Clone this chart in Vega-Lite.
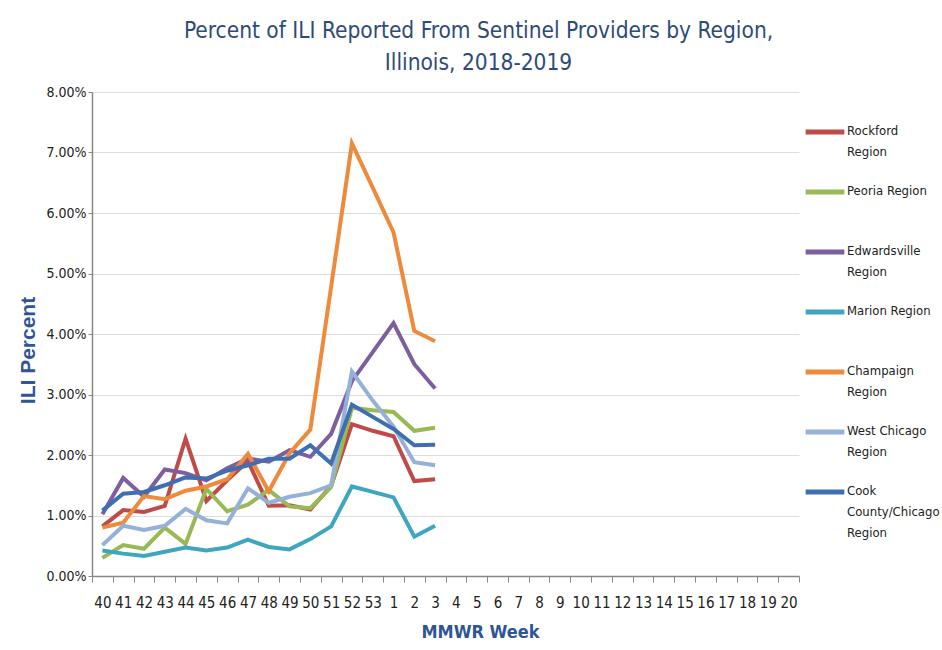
{
  "$schema": "https://vega.github.io/schema/vega-lite/v6.json",
  "width": 707,
  "height": 484,
  "autosize": {"type": "none"},
  "padding": {"left": 92, "top": 92, "right": 143, "bottom": 74},
  "background": "white",
  "config": {"view": {"stroke": null}, "font": "Liberation Sans Narrow, Arial Narrow, DejaVu Sans Condensed, sans-serif"},
  "title": {
    "text": ["Percent of ILI Reported From Sentinel Providers by Region,", "Illinois, 2018-2019"],
    "fontSize": 22.5,
    "fontWeight": "normal",
    "color": "#2E4B7A",
    "lineHeight": 32,
    "anchor": "middle",
    "frame": "group",
    "dx": 33,
    "offset": 11
  },
  "datasets": {
    "ili": [
      {"week": "40", "region": "Rockford Region", "ili": 0.0082},
      {"week": "41", "region": "Rockford Region", "ili": 0.0109},
      {"week": "42", "region": "Rockford Region", "ili": 0.0106},
      {"week": "43", "region": "Rockford Region", "ili": 0.0116},
      {"week": "44", "region": "Rockford Region", "ili": 0.0227},
      {"week": "45", "region": "Rockford Region", "ili": 0.0124},
      {"week": "46", "region": "Rockford Region", "ili": 0.0158},
      {"week": "47", "region": "Rockford Region", "ili": 0.0190},
      {"week": "48", "region": "Rockford Region", "ili": 0.0116},
      {"week": "49", "region": "Rockford Region", "ili": 0.0117},
      {"week": "50", "region": "Rockford Region", "ili": 0.0110},
      {"week": "51", "region": "Rockford Region", "ili": 0.0149},
      {"week": "52", "region": "Rockford Region", "ili": 0.0251},
      {"week": "53", "region": "Rockford Region", "ili": 0.0240},
      {"week": "1", "region": "Rockford Region", "ili": 0.0231},
      {"week": "2", "region": "Rockford Region", "ili": 0.0157},
      {"week": "3", "region": "Rockford Region", "ili": 0.0160},

      {"week": "40", "region": "Peoria Region", "ili": 0.0030},
      {"week": "41", "region": "Peoria Region", "ili": 0.0051},
      {"week": "42", "region": "Peoria Region", "ili": 0.0045},
      {"week": "43", "region": "Peoria Region", "ili": 0.0080},
      {"week": "44", "region": "Peoria Region", "ili": 0.0053},
      {"week": "45", "region": "Peoria Region", "ili": 0.0144},
      {"week": "46", "region": "Peoria Region", "ili": 0.0107},
      {"week": "47", "region": "Peoria Region", "ili": 0.0118},
      {"week": "48", "region": "Peoria Region", "ili": 0.0142},
      {"week": "49", "region": "Peoria Region", "ili": 0.0115},
      {"week": "50", "region": "Peoria Region", "ili": 0.0112},
      {"week": "51", "region": "Peoria Region", "ili": 0.0147},
      {"week": "52", "region": "Peoria Region", "ili": 0.0278},
      {"week": "53", "region": "Peoria Region", "ili": 0.0274},
      {"week": "1", "region": "Peoria Region", "ili": 0.0271},
      {"week": "2", "region": "Peoria Region", "ili": 0.0240},
      {"week": "3", "region": "Peoria Region", "ili": 0.0245},

      {"week": "40", "region": "Edwardsville Region", "ili": 0.0102},
      {"week": "41", "region": "Edwardsville Region", "ili": 0.0162},
      {"week": "42", "region": "Edwardsville Region", "ili": 0.0131},
      {"week": "43", "region": "Edwardsville Region", "ili": 0.0176},
      {"week": "44", "region": "Edwardsville Region", "ili": 0.0170},
      {"week": "45", "region": "Edwardsville Region", "ili": 0.0158},
      {"week": "46", "region": "Edwardsville Region", "ili": 0.0178},
      {"week": "47", "region": "Edwardsville Region", "ili": 0.0194},
      {"week": "48", "region": "Edwardsville Region", "ili": 0.0189},
      {"week": "49", "region": "Edwardsville Region", "ili": 0.0208},
      {"week": "50", "region": "Edwardsville Region", "ili": 0.0197},
      {"week": "51", "region": "Edwardsville Region", "ili": 0.0235},
      {"week": "52", "region": "Edwardsville Region", "ili": 0.0322},
      {"week": "53", "region": "Edwardsville Region", "ili": 0.0370},
      {"week": "1", "region": "Edwardsville Region", "ili": 0.0418},
      {"week": "2", "region": "Edwardsville Region", "ili": 0.0350},
      {"week": "3", "region": "Edwardsville Region", "ili": 0.0310},

      {"week": "40", "region": "Marion Region", "ili": 0.0042},
      {"week": "41", "region": "Marion Region", "ili": 0.0037},
      {"week": "42", "region": "Marion Region", "ili": 0.0033},
      {"week": "43", "region": "Marion Region", "ili": 0.0040},
      {"week": "44", "region": "Marion Region", "ili": 0.0047},
      {"week": "45", "region": "Marion Region", "ili": 0.0042},
      {"week": "46", "region": "Marion Region", "ili": 0.0047},
      {"week": "47", "region": "Marion Region", "ili": 0.0060},
      {"week": "48", "region": "Marion Region", "ili": 0.0048},
      {"week": "49", "region": "Marion Region", "ili": 0.0044},
      {"week": "50", "region": "Marion Region", "ili": 0.0061},
      {"week": "51", "region": "Marion Region", "ili": 0.0082},
      {"week": "52", "region": "Marion Region", "ili": 0.0148},
      {"week": "53", "region": "Marion Region", "ili": 0.0139},
      {"week": "1", "region": "Marion Region", "ili": 0.0130},
      {"week": "2", "region": "Marion Region", "ili": 0.0065},
      {"week": "3", "region": "Marion Region", "ili": 0.0083},

      {"week": "40", "region": "Champaign Region", "ili": 0.0080},
      {"week": "41", "region": "Champaign Region", "ili": 0.0088},
      {"week": "42", "region": "Champaign Region", "ili": 0.0132},
      {"week": "43", "region": "Champaign Region", "ili": 0.0127},
      {"week": "44", "region": "Champaign Region", "ili": 0.0141},
      {"week": "45", "region": "Champaign Region", "ili": 0.0148},
      {"week": "46", "region": "Champaign Region", "ili": 0.0160},
      {"week": "47", "region": "Champaign Region", "ili": 0.0202},
      {"week": "48", "region": "Champaign Region", "ili": 0.0140},
      {"week": "49", "region": "Champaign Region", "ili": 0.0203},
      {"week": "50", "region": "Champaign Region", "ili": 0.0242},
      {"week": "51", "region": "Champaign Region", "ili": 0.0478},
      {"week": "52", "region": "Champaign Region", "ili": 0.0715},
      {"week": "53", "region": "Champaign Region", "ili": 0.0642},
      {"week": "1", "region": "Champaign Region", "ili": 0.0568},
      {"week": "2", "region": "Champaign Region", "ili": 0.0405},
      {"week": "3", "region": "Champaign Region", "ili": 0.0388},

      {"week": "40", "region": "West Chicago Region", "ili": 0.0051},
      {"week": "41", "region": "West Chicago Region", "ili": 0.0083},
      {"week": "42", "region": "West Chicago Region", "ili": 0.0076},
      {"week": "43", "region": "West Chicago Region", "ili": 0.0083},
      {"week": "44", "region": "West Chicago Region", "ili": 0.0111},
      {"week": "45", "region": "West Chicago Region", "ili": 0.0092},
      {"week": "46", "region": "West Chicago Region", "ili": 0.0087},
      {"week": "47", "region": "West Chicago Region", "ili": 0.0145},
      {"week": "48", "region": "West Chicago Region", "ili": 0.0121},
      {"week": "49", "region": "West Chicago Region", "ili": 0.0131},
      {"week": "50", "region": "West Chicago Region", "ili": 0.0137},
      {"week": "51", "region": "West Chicago Region", "ili": 0.0150},
      {"week": "52", "region": "West Chicago Region", "ili": 0.0338},
      {"week": "53", "region": "West Chicago Region", "ili": 0.0290},
      {"week": "1", "region": "West Chicago Region", "ili": 0.0247},
      {"week": "2", "region": "West Chicago Region", "ili": 0.0188},
      {"week": "3", "region": "West Chicago Region", "ili": 0.0183},

      {"week": "40", "region": "Cook County/Chicago Region", "ili": 0.0108},
      {"week": "41", "region": "Cook County/Chicago Region", "ili": 0.0136},
      {"week": "42", "region": "Cook County/Chicago Region", "ili": 0.0139},
      {"week": "43", "region": "Cook County/Chicago Region", "ili": 0.0150},
      {"week": "44", "region": "Cook County/Chicago Region", "ili": 0.0163},
      {"week": "45", "region": "Cook County/Chicago Region", "ili": 0.0161},
      {"week": "46", "region": "Cook County/Chicago Region", "ili": 0.0174},
      {"week": "47", "region": "Cook County/Chicago Region", "ili": 0.0183},
      {"week": "48", "region": "Cook County/Chicago Region", "ili": 0.0194},
      {"week": "49", "region": "Cook County/Chicago Region", "ili": 0.0194},
      {"week": "50", "region": "Cook County/Chicago Region", "ili": 0.0216},
      {"week": "51", "region": "Cook County/Chicago Region", "ili": 0.0186},
      {"week": "52", "region": "Cook County/Chicago Region", "ili": 0.0283},
      {"week": "53", "region": "Cook County/Chicago Region", "ili": 0.0263},
      {"week": "1", "region": "Cook County/Chicago Region", "ili": 0.0243},
      {"week": "2", "region": "Cook County/Chicago Region", "ili": 0.0216},
      {"week": "3", "region": "Cook County/Chicago Region", "ili": 0.0217}
    ]
  },
  "data": {"name": "ili"},
  "mark": {"type": "line", "strokeWidth": 4, "strokeJoin": "miter"},
  "encoding": {
    "x": {
      "field": "week",
      "type": "ordinal",
      "scale": {
        "type": "band",
        "domain": ["40","41","42","43","44","45","46","47","48","49","50","51","52","53","1","2","3","4","5","6","7","8","9","10","11","12","13","14","15","16","17","18","19","20"],
        "paddingInner": 0,
        "paddingOuter": 0
      },
      "axis": {
        "title": "MMWR Week",
        "titleFont": "Liberation Sans Narrow, Arial Narrow, DejaVu Sans Condensed, sans-serif",
        "titleFontSize": 18,
        "titleFontWeight": "bold",
        "titleColor": "#2F5597",
        "titleX": 388,
        "titlePadding": 13,
        "labelAngle": 0,
        "labelFontSize": 15,
        "labelColor": "#222222",
        "labelPadding": 13,
        "tickBand": "extent",
        "tickSize": 6,
        "tickColor": "#888888",
        "domainColor": "#888888",
        "domainWidth": 1.5,
        "grid": false
      }
    },
    "y": {
      "field": "ili",
      "type": "quantitative",
      "scale": {"domain": [0, 0.08], "nice": false},
      "axis": {
        "title": "ILI Percent",
        "titleFont": "Liberation Sans, Arial, sans-serif",
        "titleFontSize": 21,
        "titleFontWeight": "bold",
        "titleColor": "#2F5597",
        "titleX": -54,
        "titleY": 258,
        "format": ".2%",
        "values": [0, 0.01, 0.02, 0.03, 0.04, 0.05, 0.06, 0.07, 0.08],
        "labelFontSize": 14,
        "labelColor": "#222222",
        "labelPadding": 2,
        "tickSize": 4,
        "tickColor": "#888888",
        "domainColor": "#888888",
        "domainWidth": 1.5,
        "gridColor": "#DDDDDD",
        "gridWidth": 1
      }
    },
    "color": {
      "field": "region",
      "type": "nominal",
      "scale": {
        "domain": ["Rockford Region", "Peoria Region", "Edwardsville Region", "Marion Region", "Champaign Region", "West Chicago Region", "Cook County/Chicago Region"],
        "range": ["#BE4B48", "#98B954", "#7D5FA0", "#3FA6C0", "#EE8A3C", "#95B1D8", "#3F6FB0"]
      },
      "legend": {
        "orient": "none",
        "legendX": 711,
        "legendY": 18,
        "title": null,
        "symbolType": "stroke",
        "symbolStrokeWidth": 5,
        "symbolSize": 1500,
        "labelFontSize": 13,
        "labelColor": "#222222",
        "labelBaseline": "top",
        "labelOffset": 0,
        "rowPadding": 11,
        "labelLimit": 200,
        "labelExpr": "datum.label == 'Rockford Region' ? ['Rockford', 'Region'] : datum.label == 'Peoria Region' ? ['Peoria Region', ''] : datum.label == 'Edwardsville Region' ? ['Edwardsville', 'Region'] : datum.label == 'Marion Region' ? ['Marion Region', ''] : datum.label == 'Champaign Region' ? ['Champaign', 'Region'] : datum.label == 'West Chicago Region' ? ['West Chicago', 'Region'] : datum.label == 'Cook County/Chicago Region' ? ['Cook', 'County/Chicago', 'Region'] : datum.label",
        "encode": {
          "labels": {"update": {"dy": {"value": -7}, "lineHeight": {"value": 21}}}
        }
      }
    }
  }
}
